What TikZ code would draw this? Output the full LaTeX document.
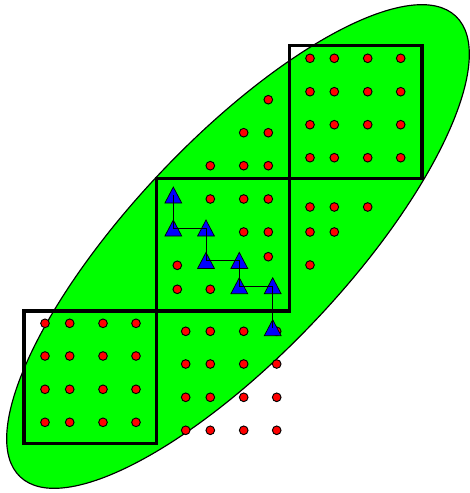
\documentclass[tikz,border=0pt]{standalone}
\begin{document}
\begin{tikzpicture}[x=0.03cm,y=-0.03cm,
  region/.style={draw=black,fill=green,line width=1pt},
  cell/.style={draw=black,line width=2.9pt,minimum size=3.98cm,inner sep=0pt,outer sep=0pt},
  dot/.style={circle,draw=black,fill=red,line width=0.8pt,minimum size=0.26cm,inner sep=0pt},
  link/.style={draw=black,line width=0.7pt},
  tri/.pic={\filldraw[fill=blue,draw=black,line width=0.6pt] (0,-8.3) -- (8.4,7.7) -- (-8.4,7.7) -- cycle;}]
\useasboundingbox (0,0) rectangle (470,493);
\coordinate (e) at (238,246.5);
\draw[region, rotate around={46.6:(e)}] (e) ellipse [x radius=9.51cm, y radius=3.21cm];
% cells
\node[cell] (A) at (90.35,377.35) {};
\node[cell] (B) at (223,244.65) {};
\node[cell] (C) at (355.65,112) {};
% dots in cell A
\foreach \py [count=\r] in {323.3,356,389.3,422.3}
  \foreach \px [count=\c] in {45,69.7,103,136}
    \node[dot] (a\r\c) at (\px,\py) {};
% dots in cell C
\foreach \py [count=\r] in {58.3,91.7,124.7,157.7}
  \foreach \px [count=\c] in {310,334.3,367.7,400.7}
    \node[dot] (c\r\c) at (\px,\py) {};
% dots below cell B
\foreach \py [count=\r] in {331.3,364,397.3,430.3}
  \foreach \px [count=\c] in {185.7,210.3,243.7,276.7}
    \node[dot] (l\r\c) at (\px,\py) {};
% dots above cell B
\foreach \px/\py [count=\k] in {268.3/99.7,243.7/132.7,268.3/132.7,210.3/165.7,243.7/165.7,268.3/165.7}
  \node[dot] (u\k) at (\px,\py) {};
% dots in cell B
\foreach \px/\py [count=\k] in {210.3/199,243.7/199,268.3/199,243.7/232,268.3/232,177.3/265.3,268.3/256.7,177.3/289.3,210.3/289.3}
  \node[dot] (m\k) at (\px,\py) {};
% dots right of cell B
\foreach \px/\py [count=\k] in {310/207,334.3/207,367.7/207,310/232,334.3/232,310/265}
  \node[dot] (r\k) at (\px,\py) {};
% path of triangles
\coordinate (t1) at (173.3,195.3);
\coordinate (t2) at (173.3,228.3);
\coordinate (t3) at (206,228.3);
\coordinate (t4) at (206,260.7);
\coordinate (t5) at (239.3,260.7);
\coordinate (t6) at (239.3,286);
\coordinate (t7) at (272.7,286);
\coordinate (t8) at (272.7,328);
\foreach \k in {1,...,8} \pic at (t\k) {tri};
\draw[link] (t1) -- (t2) -- (t3) -- (t4) -- (t5) -- (t6) -- (t7) -- (t8);
\end{tikzpicture}
\end{document}
